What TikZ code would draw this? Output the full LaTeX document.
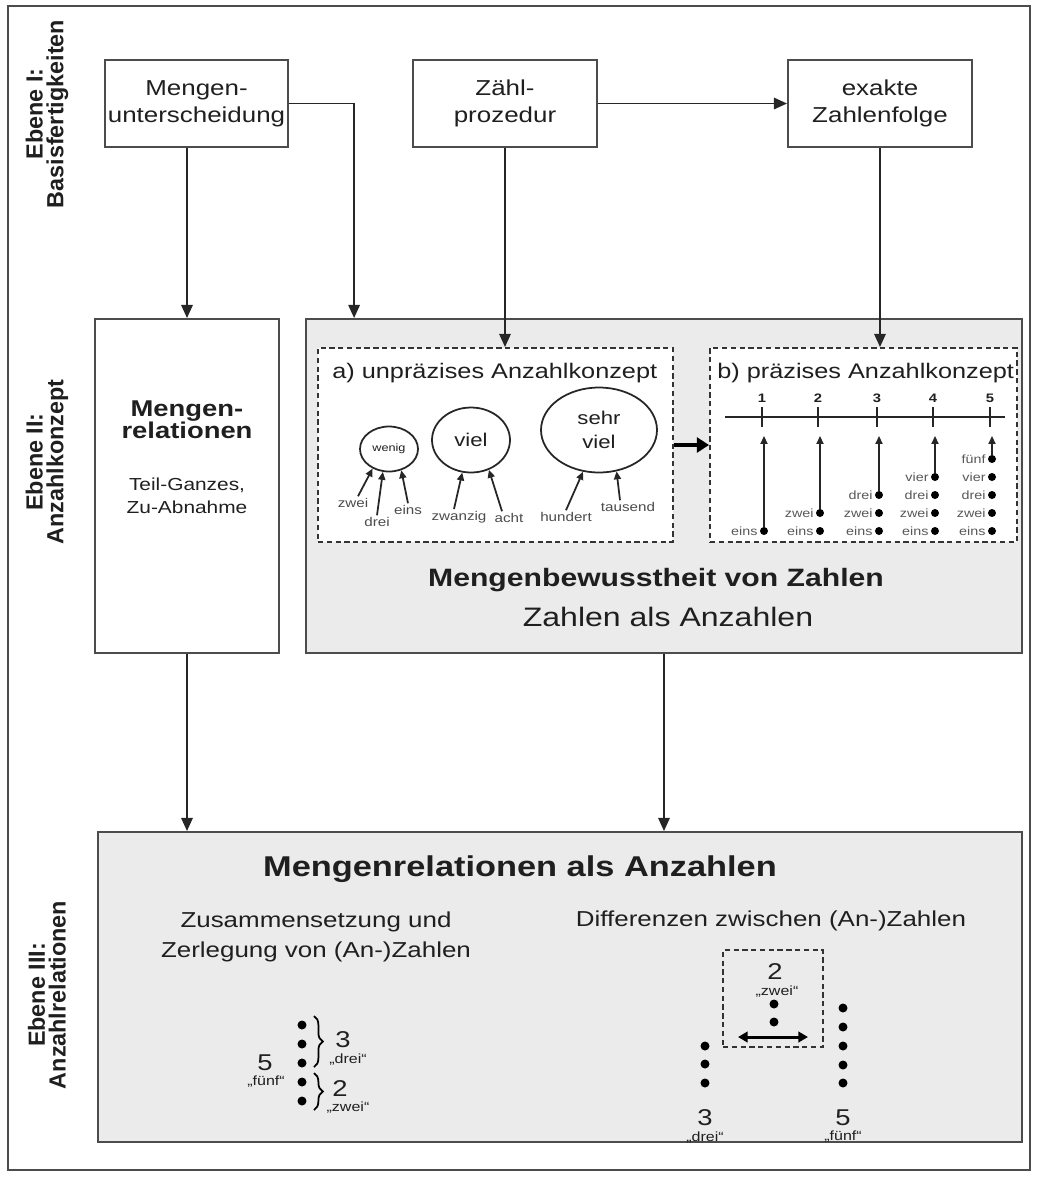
\documentclass[tikz,border=0pt]{standalone}
\usepackage{fontspec}
\setmainfont[FakeStretch=1.2]{Liberation Sans}
\newfontfamily\seitenfont{Liberation Sans}
\usetikzlibrary{arrows.meta,positioning,shapes.geometric,decorations.pathreplacing}

\definecolor{rand}{gray}{0.3}
\definecolor{flaeche}{gray}{0.92}
\definecolor{schrift}{gray}{0.12}

\newcommand\kastenschrift{\fontsize{12.3}{15.5}\selectfont}
\newcommand\mittelschrift{\fontsize{12.3}{17}\selectfont}
\newcommand\kleinschrift{\fontsize{7.2}{8}\selectfont}

\tikzset{
  kasten/.style={draw=rand, line width=1.1pt, inner sep=0pt, align=center},
  grau/.style={kasten, fill=flaeche},
  gestrichelt/.style={draw=black!80, line width=1.1pt, dash pattern=on 3pt off 2pt, fill=white, inner sep=0pt},
  pfeil/.style={line width=1.1pt, draw=black!85, -{Triangle[length=7.5pt,width=6.5pt]}},
  dickpfeil/.style={line width=2.4pt, draw=black, -{Triangle[length=7pt,width=8.5pt]}},
  doppelpfeil/.style={line width=1.7pt, draw=black, {Triangle[length=5.5pt,width=6pt]}-{Triangle[length=5.5pt,width=6pt]}},
  kleinpfeil/.style={line width=1pt, draw=black!85, -{Triangle[length=4.5pt,width=4pt]}},
  strahl/.style={line width=1.6pt, draw=black!85},
  oval/.style={ellipse, draw=black!85, line width=1pt, inner sep=0pt, fill=white, align=center},
  klein/.style={inner sep=1pt, text=black!70, font=\kleinschrift},
  wort/.style={inner sep=1pt, text=black!65, font=\fontsize{6.8}{7.5}\selectfont},
  zahl/.style={inner sep=0pt, font=\fontsize{7}{8}\selectfont\bfseries},
  punkt/.style={circle, fill=black, inner sep=0pt, minimum size=0.16cm},
  grosspunkt/.style={circle, fill=black, inner sep=0pt, minimum size=0.18cm},
  ziffer/.style={inner sep=0pt, font=\fontsize{13}{14}\selectfont},
  anfz/.style={inner sep=0pt, font=\fontsize{7.6}{8.5}\selectfont},
  klammer/.style={decorate, decoration={brace, amplitude=5pt}, line width=1pt},
  ebene/.style={rotate=90, align=center, font={\seitenfont\bfseries\fontsize{13.3}{11.8}\selectfont}}
}

\begin{document}
\begin{tikzpicture}[x=0.02cm, y=-0.02cm, text=schrift]
    \useasboundingbox (0,0) rectangle (1036,1178);
    \draw[rand, line width=0.7pt] (8,6) rectangle (1030,1170);

    \node[ebene] (e1) at (47,114) {Ebene I:\\Basisfertigkeiten};
    \node[ebene] (e2) at (47,462) {Ebene II:\\Anzahlkonzept};
    \node[ebene] (e3) at (47,995) {Ebene III:\\Anzahlrelationen};

    % Ebene I
    \node[kasten, minimum width=3.66cm, minimum height=1.74cm, font=\kastenschrift] (mu) at (196.5,103.5) {Mengen-\\unterscheidung};
    \node[kasten, minimum width=3.68cm, minimum height=1.74cm, font=\kastenschrift] (zp) at (505,103.5) {Zähl-\\prozedur};
    \node[kasten, minimum width=3.68cm, minimum height=1.74cm, font=\kastenschrift] (ez) at (880,103.5) {exakte\\Zahlenfolge};

    % Ebene II
    \node[kasten, minimum width=3.68cm, minimum height=6.68cm] (mr) at (187,486) {};
    \node[align=center, font=\fontsize{13}{12.5}\selectfont\bfseries] (mrtitel) at (187,420) {Mengen-\\relationen};
    \node[align=center, font=\fontsize{9.9}{13}\selectfont] (mrtext) at (187,496) {Teil-Ganzes,\\Zu-Abnahme};

    \node[grau, minimum width=14.32cm, minimum height=6.68cm] (mb) at (664,486) {};
    \node[gestrichelt, minimum width=7.1cm, minimum height=3.88cm] (ua) at (495.5,445) {};
    \node[gestrichelt, minimum width=6.14cm, minimum height=3.88cm] (pa) at (863.5,445) {};
    \node[font=\fontsize{14.3}{16}\selectfont\bfseries] (mbtitel) at (656,580) {Mengenbewusstheit von Zahlen};
    \node[font=\fontsize{15.2}{17}\selectfont] (mbtext) at (668,617) {Zahlen als Anzahlen};

    % a) unpraezises Anzahlkonzept
    \node[anchor=west, inner sep=0pt, font=\fontsize{12}{14}\selectfont] (uatitel) at (332,373) {a) unpräzises Anzahlkonzept};
    \node[oval, minimum width=1.16cm, minimum height=0.9cm, font=\fontsize{6}{7}\selectfont] (wenig) at (389,449) {wenig};
    \node[oval, minimum width=1.56cm, minimum height=1.3cm, font=\fontsize{10.5}{12}\selectfont] (viel) at (471,440) {viel};
    \node[oval, minimum width=2.32cm, minimum height=1.7cm, font=\fontsize{10.5}{13.5}\selectfont] (sehrviel) at (599,430) {sehr\\viel};
    \node[klein] (zwei) at (353,503) {zwei};
    \node[klein] (drei) at (377,522) {drei};
    \node[klein] (eins) at (408,510) {eins};
    \node[klein] (zwanzig) at (459,517) {zwanzig};
    \node[klein] (acht) at (509,518) {acht};
    \node[klein] (hundert) at (566,517) {hundert};
    \node[klein] (tausend) at (628,507) {tausend};
    \draw[kleinpfeil] ([xshift=0.1cm]zwei.north) -- (wenig.230);
    \draw[kleinpfeil] (drei.north) -- (wenig.255);
    \draw[kleinpfeil] (eins.north) -- (wenig.300);
    \draw[kleinpfeil] ([xshift=-0.1cm]zwanzig.north) -- (viel.255);
    \draw[kleinpfeil] ([xshift=-0.14cm]acht.north) -- (viel.301);
    \draw[kleinpfeil] (hundert.north) -- (sehrviel.249);
    \draw[kleinpfeil] ([xshift=-0.16cm]tausend.north) -- (sehrviel.293);

    % b) praezises Anzahlkonzept
    \node[anchor=west, inner sep=0pt, font=\fontsize{12}{14}\selectfont] (patitel) at (717,373) {b) präzises Anzahlkonzept};
    \draw[strahl] (725,417) -- (1005,417);
    \foreach \x [count=\n] in {762,818,877,933,990} {
        \draw[strahl] (\x,407) -- (\x,427);
        \node[zahl] at (\x,398) {\n};
        \coordinate (ende\n) at (\x+2,436);
        \foreach \w [count=\k] in {eins,zwei,drei,vier,fünf} {
            \ifnum\k>\n\else
                \node[punkt] (p\n\k) at (\x+2,549-18*\k) {};
                \node[wort, left=0pt of p\n\k] {\w};
            \fi
        }
        \draw[kleinpfeil] (p\n\n) -- (ende\n);
    }

    % Ebene III
    \node[grau, minimum width=18.48cm, minimum height=6.2cm] (ma) at (560,987) {};
    \node[font=\fontsize{16.3}{19}\selectfont\bfseries] (matitel) at (520,869) {Mengenrelationen als Anzahlen};
    \node[align=center, font=\mittelschrift] (zztext) at (316,937) {Zusammensetzung und\\Zerlegung von (An-)Zahlen};
    \node[font=\mittelschrift] (difftext) at (771,921) {Differenzen zwischen (An-)Zahlen};

    \foreach \y [count=\k] in {1025,1044,1063,1082,1101}
        \node[grosspunkt] (l\k) at (302,\y) {};
    \draw[klammer] (314,1016) -- (314,1067);
    \draw[klammer] (314,1073) -- (314,1110);
    \node[ziffer] (l3z) at (343,1040) {3};
    \node[anfz] (l3w) at (348,1060) {„drei“};
    \node[ziffer] (l2z) at (340,1089) {2};
    \node[anfz] (l2w) at (348,1108) {„zwei“};
    \node[ziffer] (l5z) at (265,1063) {5};
    \node[anfz] (l5w) at (266,1082) {„fünf“};

    \node[gestrichelt, fill=none, minimum width=2cm, minimum height=1.94cm] (diffbox) at (773,998.5) {};
    \node[ziffer] (r2z) at (775,972) {2};
    \node[anfz] (r2w) at (777,992) {„zwei“};
    \node[grosspunkt] (m1) at (774,1004) {};
    \node[grosspunkt] (m2) at (774,1022) {};
    \coordinate (dl) at (738,1037);
    \coordinate (dr) at (808,1037);
    \draw[doppelpfeil] (dl) -- (dr);
    \foreach \y [count=\k] in {1046,1064,1083}
        \node[grosspunkt] (a\k) at (705,\y) {};
    \foreach \y [count=\k] in {1008,1027,1046,1065,1083}
        \node[grosspunkt] (b\k) at (843,\y) {};
    \node[ziffer] (r3z) at (705,1118) {3};
    \node[anfz] (r3w) at (705,1138) {„drei“};
    \node[ziffer] (r5z) at (843,1118) {5};
    \node[anfz] (r5w) at (843,1137) {„fünf“};

    % Verbindungen
    \draw[pfeil] (zp.east) -- (ez.west);
    \draw[pfeil] (mu.south -| mr.north) -- (mr.north);
    \draw[pfeil] (mu.east) -| ([xshift=0.98cm]mb.north west);
    \draw[pfeil] (zp.south) -- (zp.south |- ua.north);
    \draw[pfeil] (ez.south) -- (ez.south |- pa.north);
    \draw[dickpfeil] (ua.east) -- (pa.west);
    \draw[pfeil] (mr.south) -- (mr.south |- ma.north);
    \draw[pfeil] (mb.south) -- (mb.south |- ma.north);
\end{tikzpicture}
\end{document}
